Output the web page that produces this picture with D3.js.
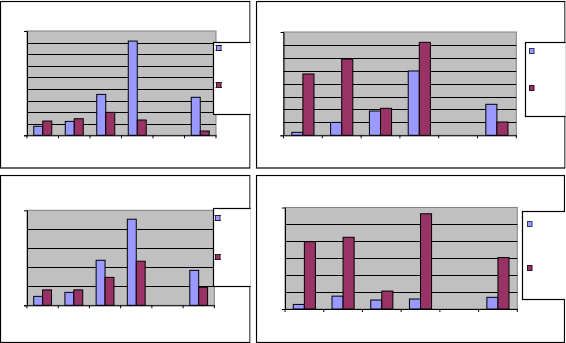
<!DOCTYPE html>
<html>
<head>
<meta charset="utf-8">
<script src="https://cdn.jsdelivr.net/npm/d3@7"></script>
<style>
  html, body { margin: 0; padding: 0; background: #fff; }
  svg { display: block; }
</style>
</head>
<body>
<svg id="chart" width="566" height="343"></svg>
<script>
// Six categories shared by all four charts (the fifth one holds no bars)
const categories = ["c1", "c2", "c3", "c4", "c5", "c6"];
const seriesNames = ["Series 1", "Series 2"];

// Values for each chart, read per category
const chartA_s1 = [7.8, 12.0, 35.3, 81.3, null, 32.8];
const chartA_s2 = [12.3, 14.3, 19.8, 13.2, null, 3.7];
const chartB_s1 = [2.3, 10.0, 18.8, 49.8, null, 24.0];
const chartB_s2 = [47.5, 59.0, 20.9, 72.0, null, 10.3];
const chartC_s1 = [4.7, 6.8, 23.7, 45.3, null, 18.4];
const chartC_s2 = [8.1, 8.1, 14.7, 23.2, null, 9.5];
const chartD_s1 = [2.7, 7.6, 5.3, 5.9, null, 6.9];
const chartD_s2 = [39.8, 42.4, 10.6, 56.3, null, 30.4];

// Value-axis maxima (gridline every 10 units)
const axisMax = [90, 80, 50, 60];

const colors = ["#9999FF", "#993366"];
const plotFill = "#C0C0C0";

// Layout of each chart frame, its plot area and its legend box
const layouts = [
  { frame: [0.5, 1.5, 250, 168], plot: [27, 31, 216, 135.3], legend: [213.5, 42.5, 114.5], keys: [[216, 45.5], [216, 82.5]], beam: true },
  { frame: [256.5, 1.5, 565, 168], plot: [283.5, 32, 516.3, 135.3], legend: [525.5, 42.5, 116.5], keys: [[529, 48.5], [529, 85.5]], beam: false },
  { frame: [0.5, 175.5, 250, 342.5], plot: [27, 210.3, 214.3, 305.3], legend: [213.5, 208.5, 286.5], keys: [[215, 215.5], [215, 254.5]], beam: true },
  { frame: [256.5, 175.5, 564.5, 342.5], plot: [285, 207.5, 517.3, 309], legend: [522.5, 211.5, 299.5], keys: [[527, 221.5], [527, 265.5]], beam: false }
];
const seriesData = [
  [chartA_s1, chartA_s2],
  [chartB_s1, chartB_s2],
  [chartC_s1, chartC_s2],
  [chartD_s1, chartD_s2]
];

const svg = d3.select("#chart");
const defs = svg.append("defs");

layouts.forEach((L, i) => {
  const [fx0, fy0, fx1, fy1] = L.frame;
  const [px0, py0, px1, py1] = L.plot;

  defs.append("clipPath").attr("id", "clip" + i)
    .append("rect").attr("x", fx0 - 1).attr("y", fy0 - 1)
    .attr("width", fx1 - fx0 + 1.5).attr("height", fy1 - fy0 + 2);

  const g = svg.append("g").attr("clip-path", `url(#clip${i})`);

  // Chart frame
  g.append("rect")
    .attr("x", fx0).attr("y", fy0)
    .attr("width", fx1 - fx0).attr("height", fy1 - fy0)
    .attr("fill", "#fff").attr("stroke", "#000").attr("stroke-width", 1.2);

  const x = d3.scaleBand().domain(categories).range([px0, px1]).paddingInner(0).paddingOuter(0);
  const y = d3.scaleLinear().domain([0, axisMax[i]]).range([py1, py0]);
  // Clustered bars: gap of 150% of a bar width between groups
  const xs = d3.scaleBand().domain(seriesNames)
    .range([0, x.bandwidth()]).paddingInner(0).paddingOuter(0.75);

  // Plot area
  g.append("rect")
    .attr("x", px0).attr("y", py0)
    .attr("width", px1 - px0).attr("height", py1 - py0)
    .attr("fill", plotFill).attr("stroke", "#808080").attr("stroke-width", 1);

  // Gridlines
  const ticks = d3.range(10, axisMax[i], 10);
  g.append("g").selectAll("line").data(ticks).join("line")
    .attr("x1", px0).attr("x2", px1)
    .attr("y1", d => Math.round(y(d)) + 0.5).attr("y2", d => Math.round(y(d)) + 0.5)
    .attr("stroke", "#000").attr("stroke-width", 1);

  // Bars
  seriesData[i].forEach((vals, s) => {
    g.append("g").selectAll("rect")
      .data(categories.map((c, k) => ({ c, v: vals[k] })).filter(d => d.v != null))
      .join("rect")
      .attr("x", d => x(d.c) + xs(seriesNames[s]))
      .attr("width", xs.bandwidth())
      .attr("y", d => y(d.v))
      .attr("height", d => y(0) - y(d.v))
      .attr("fill", colors[s])
      .attr("stroke", "#000").attr("stroke-width", 1);
  });

  // Value axis
  const yAxis = g.append("g").attr("transform", `translate(${px0},0)`)
    .call(d3.axisLeft(y).tickValues([0]).tickSize(3).tickFormat(""));
  yAxis.selectAll("path,line").attr("stroke", "#000");

  // Category axis
  const xAxis = g.append("g").attr("transform", `translate(0,${py1})`)
    .call(d3.axisBottom(x).tickSize(0).tickFormat(""));
  xAxis.select("path").attr("stroke", "#000");
  const edges = categories.map(c => x(c)).concat([px1]);
  xAxis.selectAll("line.edge").data(edges).join("line")
    .attr("class", "edge")
    .attr("x1", d => d).attr("x2", d => d)
    .attr("y1", 0).attr("y2", 3)
    .attr("stroke", "#000");

  // Legend box, drawn over the right side of the plot and frame
  const [lx, ly0, ly1] = L.legend;
  g.append("rect")
    .attr("x", lx).attr("y", ly0)
    .attr("width", 80).attr("height", ly1 - ly0)
    .attr("fill", "#fff").attr("stroke", "#000").attr("stroke-width", 1.2);

  L.keys.forEach((k, s) => {
    const [kx, ky] = k;
    const key = g.append("g");
    key.append("rect")
      .attr("x", kx + 0.5).attr("y", ky)
      .attr("width", 4.5).attr("height", 5)
      .attr("fill", colors[s]).attr("stroke", s === 0 ? "#333366" : "#331122").attr("stroke-width", 1);
    if (L.beam) {
      [ky, ky + 5].forEach(yy => {
        key.append("line")
          .attr("x1", kx - 0.5).attr("x2", kx + 6)
          .attr("y1", yy).attr("y2", yy)
          .attr("stroke", "#222").attr("stroke-width", 1);
      });
    }
  });
});
</script>
</body>
</html>
